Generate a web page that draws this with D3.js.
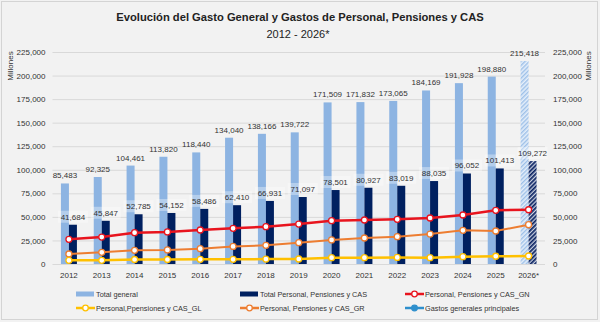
<!DOCTYPE html>
<html><head><meta charset="utf-8">
<script src="https://cdn.jsdelivr.net/npm/d3@7"></script>
<style>
html,body{margin:0;padding:0;background:#f2f2f2;}
svg{display:block;font-family:"Liberation Sans",Arial,sans-serif;}
</style></head>
<body>
<svg id="c" width="600" height="322"></svg>
<script>
const years = ["2012","2013","2014","2015","2016","2017","2018","2019","2020","2021","2022","2023","2024","2025","2026*"];
const totalGeneral = [85483,92325,104461,113820,118440,134040,138166,139722,171509,171832,173065,184169,191928,198880,215418];
const totalPersonal = [41684,45847,52785,54152,58486,62410,66931,71097,78501,80927,83019,88035,96052,101413,109272];
const personalGN = [26200,28600,33200,34000,36100,37900,39600,42400,46000,46700,47400,48800,52000,57000,57600];
const personalGR = [10600,12400,14500,14900,16300,18700,19800,22600,25500,27600,29000,31800,35700,35000,41700];
const personalGL = [3900,3900,4800,4800,5000,5000,5200,5300,6700,6700,7000,6700,7800,8200,8500];
const yTicks = [0,25000,50000,75000,100000,125000,150000,175000,200000,225000];
const projected = "2026*";

const svg = d3.select("#c");
const fmt = d3.format(",");
const L = 52.5, R = 545, T = 52, B = 264;

svg.append("rect").attr("x",1.5).attr("y",1.5).attr("width",596).attr("height",318)
  .attr("fill","#f2f2f2").attr("stroke","#d4d4d4");

const defs = svg.append("defs");
const p1 = defs.append("pattern").attr("id","hatchLight").attr("patternUnits","userSpaceOnUse")
  .attr("width",3).attr("height",3).attr("patternTransform","rotate(45)");
p1.append("rect").attr("width",3).attr("height",3).attr("fill","#e4eefa");
p1.append("rect").attr("width",1.4).attr("height",3).attr("fill","#9dc0e8");
const p2 = defs.append("pattern").attr("id","hatchDark").attr("patternUnits","userSpaceOnUse")
  .attr("width",3).attr("height",3).attr("patternTransform","rotate(45)");
p2.append("rect").attr("width",3).attr("height",3).attr("fill","#c9d0e0");
p2.append("rect").attr("width",1.7).attr("height",3).attr("fill","#0b2362");

const x = d3.scaleBand().domain(years).range([L,R]).padding(0);
const y = d3.scaleLinear().domain([0,225000]).range([B,T]);
const cx = d => x(d) + x.bandwidth()/2;
const bw = 8;

// title
svg.append("text").attr("x",300).attr("y",21).attr("text-anchor","middle")
  .attr("font-size",11.2).attr("font-weight","bold").attr("fill","#222")
  .text("Evolución del Gasto General y Gastos de Personal, Pensiones y CAS");
svg.append("text").attr("x",298).attr("y",38).attr("text-anchor","middle")
  .attr("font-size",11).attr("fill","#222").text("2012 - 2026*");

// grid
svg.append("g").selectAll("line").data(yTicks).join("line")
  .attr("x1",L).attr("x2",R).attr("y1",d=>y(d)+0.5).attr("y2",d=>y(d)+0.5)
  .attr("stroke","#d9d9d9").attr("stroke-width",1);

// axes
const yl = d3.axisLeft(y).tickValues(yTicks).tickFormat(fmt).tickSize(0).tickPadding(7);
const gl = svg.append("g").attr("transform",`translate(${L},0)`).call(yl);
const yr = d3.axisRight(y).tickValues(yTicks).tickFormat(fmt).tickSize(0).tickPadding(8);
const gr = svg.append("g").attr("transform",`translate(${R},0)`).call(yr);
const xa = d3.axisBottom(x).tickSize(0).tickPadding(8);
const gx = svg.append("g").attr("transform",`translate(0,${B})`).call(xa);
[gl,gr,gx].forEach(g=>{
  g.select(".domain").remove();
  g.selectAll("text").attr("font-size",8).attr("fill","#333").attr("font-family","Liberation Sans, Arial, sans-serif");
});

svg.append("text").attr("transform","translate(13,66) rotate(-90)").attr("text-anchor","middle")
  .attr("font-size",8).attr("fill","#333").text("Millones");
svg.append("text").attr("transform","translate(591,66) rotate(-90)").attr("text-anchor","middle")
  .attr("font-size",8).attr("fill","#333").text("Millones");

// bars
svg.append("g").selectAll("rect").data(years).join("rect")
  .attr("x",d=>cx(d)-bw).attr("width",bw)
  .attr("y",(d,i)=>y(totalGeneral[i])).attr("height",(d,i)=>B-y(totalGeneral[i]))
  .attr("fill",d=>d===projected?"url(#hatchLight)":"#8db4e2");
svg.append("g").selectAll("rect").data(years).join("rect")
  .attr("x",d=>cx(d)).attr("width",bw)
  .attr("y",(d,i)=>y(totalPersonal[i])).attr("height",(d,i)=>B-y(totalPersonal[i]))
  .attr("fill",d=>d===projected?"url(#hatchDark)":"#002060");

// labels
const lg = svg.append("g");
years.forEach((d,i)=>{
  lg.append("text").attr("x",cx(d)-bw/2).attr("y",y(totalGeneral[i])-5)
    .attr("text-anchor","middle").attr("font-size",8).attr("fill","#333").text(fmt(totalGeneral[i]));
});
const dl = svg.append("g");
years.forEach((d,i)=>{
  const yy = y(totalPersonal[i]) - 5;
  dl.append("rect").attr("x",cx(d)+bw/2-15).attr("y",yy-9).attr("width",30).attr("height",12)
    .attr("fill","#ffffff").attr("opacity",0.35);
  dl.append("text").attr("x",cx(d)+bw/2).attr("y",yy)
    .attr("text-anchor","middle").attr("font-size",8).attr("fill","#333").text(fmt(totalPersonal[i]));
});

// lines
const series = [
  {vals:personalGR, color:"#ed7d31", w:2},
  {vals:personalGN, color:"#e8141e", w:2.5},
  {vals:personalGL, color:"#ffc000", w:2.5}
];
const line = d3.line().x(d=>cx(d[0])).y(d=>y(d[1]));
series.forEach(s=>{
  const pts = years.map((d,i)=>[d,s.vals[i]]);
  svg.append("path").attr("d",line(pts)).attr("fill","none").attr("stroke",s.color).attr("stroke-width",s.w);
  svg.append("g").selectAll("circle").data(pts).join("circle")
    .attr("cx",d=>cx(d[0])).attr("cy",d=>y(d[1])).attr("r",3)
    .attr("fill","#fff").attr("stroke",s.color).attr("stroke-width",1.3);
});

// legend
const legend = [
  {t:"Total general", type:"rect", c:"#8db4e2", x:76, y:294},
  {t:"Total Personal, Pensiones y CAS", type:"rect", c:"#002060", x:240, y:294},
  {t:"Personal, Pensiones y CAS_GN", type:"line", c:"#e8141e", x:405, y:294},
  {t:"Personal,Ppensiones y CAS_GL", type:"line", c:"#ffc000", x:76, y:308},
  {t:"Personal, Pensiones y CAS_GR", type:"line", c:"#ed7d31", x:240, y:308},
  {t:"Gastos generales principales", type:"line", c:"#2e8fcc", x:405, y:308, fillMarker:true}
];
const lgd = svg.append("g");
legend.forEach(e=>{
  if(e.type==="rect"){
    lgd.append("rect").attr("x",e.x).attr("y",e.y-2.5).attr("width",18).attr("height",5).attr("fill",e.c);
  } else {
    lgd.append("line").attr("x1",e.x).attr("x2",e.x+19).attr("y1",e.y).attr("y2",e.y)
      .attr("stroke",e.c).attr("stroke-width",2.5);
    lgd.append("circle").attr("cx",e.x+9.5).attr("cy",e.y).attr("r",2.8)
      .attr("fill",e.fillMarker?e.c:"#fff").attr("stroke",e.c).attr("stroke-width",1.3);
  }
  lgd.append("text").attr("x",e.x+20).attr("y",e.y+2.6).attr("font-size",7.3).attr("fill","#333").text(e.t);
});
</script>
</body></html>
